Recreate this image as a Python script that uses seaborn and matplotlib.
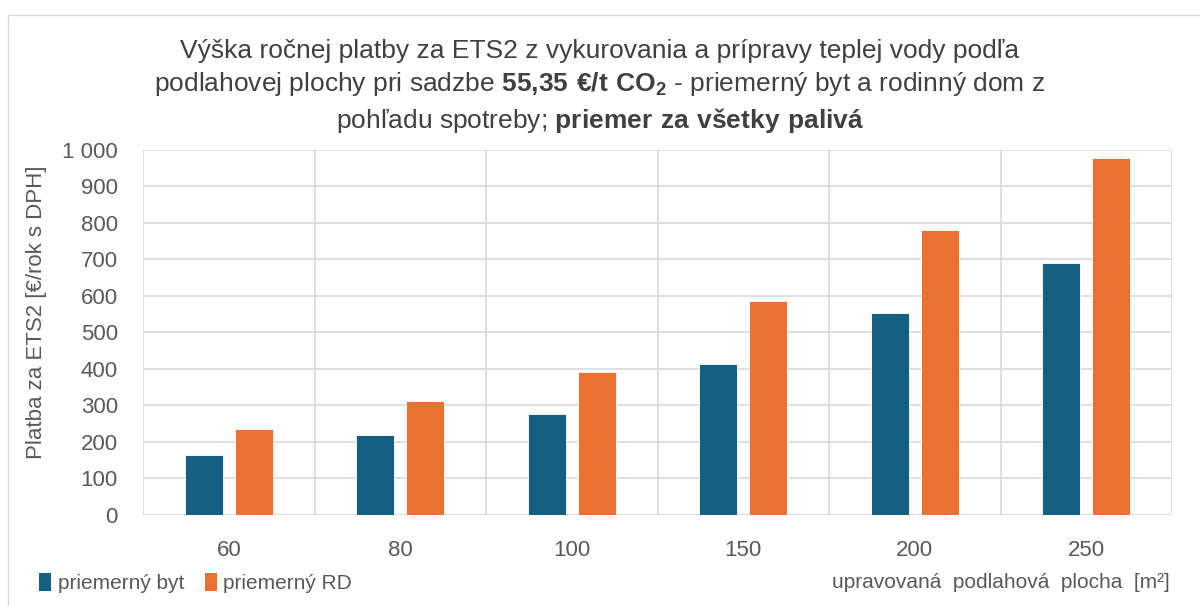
import numpy as np
import pandas as pd
import matplotlib
matplotlib.use("Agg")
import matplotlib.pyplot as plt
import seaborn as sns
from matplotlib import font_manager
from matplotlib.patches import Patch, Rectangle
from matplotlib.ticker import FuncFormatter, FixedLocator

# data
plocha = ["60", "80", "100", "150", "200", "250"]
byt = [164, 219, 275, 414, 553, 689]
rd = [235, 313, 392, 586, 781, 978]
serie = ["priemerný byt", "priemerný RD"]
farby = ["#156082", "#E97132"]

df = pd.DataFrame({
    "plocha": plocha * 2,
    "typ": [serie[0]] * len(plocha) + [serie[1]] * len(plocha),
    "platba": byt + rd,
})

sns.set_theme(style="white")

names = {f.name for f in font_manager.fontManager.ttflist}
font = "Liberation Sans Narrow" if "Liberation Sans Narrow" in names else "Liberation Sans"
plt.rcParams["font.family"] = [font, "DejaVu Sans"]
plt.rcParams["mathtext.fontset"] = "custom"
plt.rcParams["mathtext.rm"] = font
plt.rcParams["mathtext.bf"] = font + ":bold"

fig = plt.figure(figsize=(12, 6.06), dpi=100)
ax = fig.add_axes([143 / 1200, 1 - 515 / 606, 1029 / 1200, 365.5 / 606])

sns.barplot(data=df, x="plocha", y="platba", hue="typ", palette=farby,
            width=0.58, gap=0.24, ax=ax, legend=False,
            edgecolor="white", linewidth=0.6, saturation=1)

ax.set_xlim(-0.5, len(plocha) - 0.5)
ax.set_ylim(0, 1000)
ax.yaxis.set_major_locator(FixedLocator(np.arange(0, 1001, 100)))
ax.yaxis.set_major_formatter(FuncFormatter(lambda v, p: f"{v:,.0f}".replace(",", " ")))
ax.xaxis.set_minor_locator(FixedLocator(np.arange(-0.5, len(plocha), 1)))
ax.set_axisbelow(True)
ax.grid(axis="y", which="major", color="#D9D9D9", lw=1.2)
ax.grid(axis="x", which="minor", color="#D9D9D9", lw=1.2)
for s in ax.spines.values():
    s.set_visible(False)
ax.tick_params(axis="both", which="both", length=0)
ax.tick_params(axis="x", pad=18, labelsize=16, labelcolor="#595959")
ax.tick_params(axis="y", pad=18, labelsize=16, labelcolor="#595959")
ax.set_xlabel("")
ax.set_ylabel("Platba za ETS2 [€/rok s DPH]", fontsize=16, color="#595959")
ax.yaxis.set_label_coords(-0.093, 0.555)

title = ("Výška ročnej platby za ETS2 z vykurovania a prípravy teplej vody podľa\n"
         r"podlahovej plochy pri sadzbe $\mathbf{55{,}35\ €/t\ CO_2}$ - priemerný byt a rodinný dom z" "\n"
         r"pohľadu spotreby; $\mathbf{priemer\ za\ všetky\ palivá}$")
fig.text(0.5, 1 - 87 / 606, title, ha="center", va="center", fontsize=19,
         color="#404040", linespacing=1.35)

handles = [Patch(facecolor=c, edgecolor="none") for c in farby]
fig.legend(handles, serie, loc="center left", bbox_to_anchor=(20 / 1200, 1 - 583 / 606),
           ncol=2, frameon=False, fontsize=15, handlelength=0.6, handleheight=1.0,
           handletextpad=0.3, columnspacing=1.0, labelcolor="#595959")

fig.text(1170 / 1200, 1 - 583 / 606, "upravovaná  podlahová  plocha  [m²]",
         ha="right", va="center", fontsize=15, color="#595959")

fig.patches.append(Rectangle((8 / 1200, -0.1), 1.2, (606 - 15) / 606 + 0.1,
                             transform=fig.transFigure, fill=False,
                             edgecolor="#D9D9D9", lw=1))

fig.savefig("out.png", dpi=100, facecolor="white")
